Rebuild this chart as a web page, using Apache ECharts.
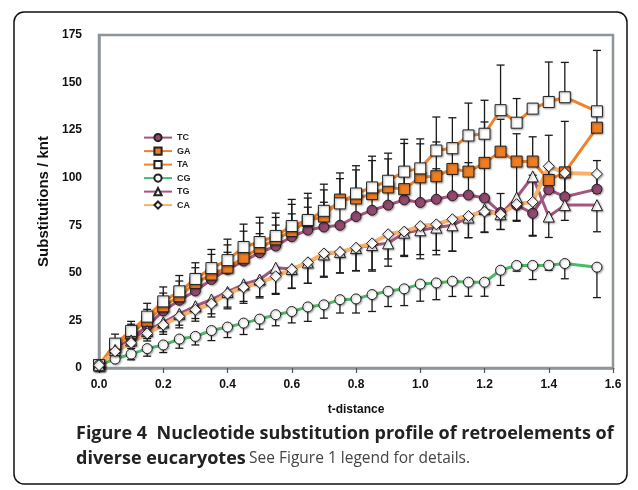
<!DOCTYPE html>
<html>
<head>
<meta charset="utf-8">
<script src="https://cdn.jsdelivr.net/npm/echarts@6/dist/echarts.min.js"></script>
<style>
  html, body { margin: 0; padding: 0; background: #fff; }
  #chart { width: 638px; height: 490px; }
</style>
</head>
<body>
<div id="chart"></div>
<script>
var tDist = [0, 0.05, 0.1, 0.15, 0.2, 0.25, 0.3, 0.35, 0.4, 0.45, 0.5, 0.55, 0.6, 0.65, 0.7, 0.75,
  0.8, 0.85, 0.9, 0.95, 1.0, 1.05, 1.1, 1.15, 1.2, 1.25, 1.3, 1.35, 1.4, 1.45, 1.55];

var TC = [1.5, 10, 15.5, 22, 30, 35.6, 40.5, 46.5, 51.8, 56.2, 60.6, 64.1, 69, 72.5, 74.1, 75,
  79.6, 82.9, 85.6, 88.4, 87, 88.7, 90.5, 90.9, 89.3, 81.7, 85.6, 81.3, 93.7, 90, 94];
var TCerr = [0.5, 3, 4, 5, 6, 6, 7, 8, 9, 10, 10, 11, 12, 12, 13, 13,
  14, 14, 15, 15, 15, 16, 16, 17, 17, 10, 22, 20, 8, 12, 15];

var GA = [1.5, 11, 18.3, 24.8, 32.4, 37.7, 44.7, 49.1, 52.7, 57.9, 63.2, 67.6, 72, 77.3, 79.6, 88.5,
  89.1, 91.4, 94.9, 94, 100.2, 100.8, 104.6, 103.2, 107.8, 113.7, 108.5, 108.5, 98.8, 102.8, 126.3];
var GAerr = [0.5, 4, 4.7, 6, 7, 8, 8, 10.6, 12, 14, 13, 11.5, 14, 12, 14, 11,
  15, 17.6, 15, 24, 17.6, 18, 13.7, 21.6, 21.5, 17, 14.6, 13, 23.5, 26.8, 6];

var TA = [1.5, 12.8, 19.5, 27, 35, 40.3, 46.8, 52.5, 56.7, 63.6, 66.2, 69.4, 74.6, 77.8, 82.6, 86.5,
  91.7, 94.9, 98.4, 103.2, 104.9, 114.3, 115.5, 122.2, 123.1, 135.5, 128.9, 136.3, 139.8, 142.3, 134.9];
var TAerr = [0.5, 5, 5, 7, 7.6, 8.3, 8.5, 9.8, 11, 12, 13, 12, 14, 14, 14, 16,
  14.6, 16.4, 14.5, 17, 15.5, 17.6, 16, 17, 17.6, 23.7, 12.7, 1, 21, 18.3, 32];

var CG = [1.5, 4.7, 7.3, 10.2, 12.1, 15.2, 16.6, 19.7, 21.5, 23.6, 25.7, 28, 29.7, 32.1, 33.2, 35.9,
  36.3, 38.6, 40.3, 41.6, 44.1, 44.7, 45.6, 45.1, 45.1, 51.4, 53.9, 53.9, 54, 54.9, 53];
var CGerr = [0.5, 1, 3, 4, 4, 4.8, 4.5, 5.3, 5.5, 6, 5.3, 5.8, 6, 7.6, 7, 7,
  7.4, 8.9, 8, 8.8, 9, 8.8, 8, 7.4, 7.4, 8, 3, 7.4, 2.6, 8, 16];

var TG = [1.5, 9.5, 14.5, 19.5, 24, 28.5, 32.5, 36, 40, 44, 46.5, 52.7, 52, 55.5, 59.7, 61,
  63, 64.6, 65.5, 71.1, 72.4, 73.8, 75, 79.1, 83.5, 80.8, 89.6, 100.7, 79.6, 85.6, 85.6];
var TGerr = [0.5, 2, 3, 4, 5, 6, 6.5, 7.5, 8, 9, 9, 14, 10, 11, 12, 11,
  12, 13, 12, 12.5, 15, 12, 13.6, 10.6, 12, 8, 12, 31, 11, 8, 14];

var CA = [1.5, 8.8, 13.2, 18.2, 22.7, 27.1, 30.6, 33.8, 39.1, 42.4, 44.8, 48.2, 51.8, 55.5, 60.2, 60.9,
  63.2, 65.5, 70.3, 71.7, 74.6, 75.5, 78.2, 79.9, 82.2, 80.8, 86.1, 87.3, 106, 102.5, 102];
var CAerr = [0.5, 2, 3, 4, 5, 6, 6, 7, 8, 8.4, 8, 9, 10, 11, 12, 11,
  12, 14.6, 13, 12.5, 15, 16, 16.8, 11.4, 11, 8, 9, 18, 10, 12, 10];

var yTicks = [0, 25, 50, 75, 100, 125, 150, 175];

var FONT = "'Liberation Sans', Arial, sans-serif";
var AXIS_GRAY = "#8d959b";

var shadow = {
  shadowBlur: 2,
  shadowColor: "rgba(0,0,0,0.35)",
  shadowOffsetX: 1,
  shadowOffsetY: 1,
};

// one line series per substitution type
var lineSeries = (name, vals, lineColor, lineWidth, symbol, size, fill) => ({
  type: "line",
  name: name,
  z: 3,
  data: tDist.map((t, i) => [t, vals[i]]),
  symbol: symbol,
  symbolSize: size,
  showAllSymbol: true,
  lineStyle: { color: lineColor, width: lineWidth },
  itemStyle: Object.assign(
    { color: fill, borderColor: "#222", borderWidth: 1 },
    shadow
  ),
  emphasis: { disabled: true },
});

// one-sided error bars (dir = 1 up, -1 down)
var errSeries = (name, vals, errs, dir) => ({
  type: "custom",
  name: name + "-err",
  z: 2,
  silent: true,
  data: tDist.map((t, i) => [t, vals[i], vals[i] + dir * errs[i]]),
  encode: { x: 0, y: [1, 2] },
  renderItem: function (params, api) {
    var p0 = api.coord([api.value(0), api.value(1)]);
    var p1 = api.coord([api.value(0), api.value(2)]);
    var w = 4;
    var st = { stroke: "#1a1a1a", lineWidth: 1.3 };
    return {
      type: "group",
      children: [
        { type: "line", shape: { x1: p0[0], y1: p0[1], x2: p1[0], y2: p1[1] }, style: st },
        { type: "line", shape: { x1: p1[0] - w, y1: p1[1], x2: p1[0] + w, y2: p1[1] }, style: st },
      ],
    };
  },
});

var chart = echarts.init(document.getElementById("chart"));

chart.setOption({
  backgroundColor: "#fff",
  animation: false,
  textStyle: { fontFamily: FONT },
  grid: {
    left: 99,
    right: 25,
    top: 35,
    bottom: 122,
    show: true,
    borderColor: AXIS_GRAY,
    borderWidth: 2.5,
  },
  legend: {
    data: ["TC", "GA", "TA", "CG", "TG", "CA"],
    orient: "vertical",
    left: 138,
    top: 128,
    itemWidth: 28,
    itemHeight: 9,
    itemGap: 4.3,
    textStyle: { fontSize: 9, fontWeight: "bold", color: "#222", fontFamily: FONT },
  },
  xAxis: {
    type: "value",
    min: 0,
    max: 1.6,
    interval: 0.2,
    name: "t-distance",
    nameLocation: "middle",
    nameGap: 36,
    nameTextStyle: { fontSize: 12, fontWeight: "bold", color: "#111", fontFamily: FONT },
    axisLine: { lineStyle: { color: AXIS_GRAY, width: 2.5 } },
    axisTick: { show: true, length: 5, lineStyle: { color: "#555", width: 1.2 } },
    axisLabel: {
      margin: 11,
      fontSize: 12,
      fontWeight: "bold",
      color: "#111",
      formatter: (v) => v.toFixed(1),
    },
    splitLine: { show: false },
  },
  yAxis: {
    type: "value",
    min: 0,
    max: 175,
    interval: 25,
    name: "Substitutions / knt",
    nameLocation: "middle",
    nameGap: 48,
    nameTextStyle: { fontSize: 15, fontWeight: "bold", color: "#111", fontFamily: FONT },
    axisLine: { show: true, lineStyle: { color: AXIS_GRAY, width: 2.5 } },
    axisTick: { show: false },
    axisLabel: {
      margin: 17,
      fontSize: 12,
      fontWeight: "bold",
      color: "#111",
      formatter: (v) => (yTicks.indexOf(v) >= 0 ? String(v) : ""),
    },
    splitLine: { show: false },
  },
  graphic: [
    {
      type: "rect",
      shape: { x: 14, y: 12, width: 613, height: 472, r: 10 },
      style: { fill: "none", stroke: "#111", lineWidth: 1.5 },
      silent: true,
    },
    {
      type: "text",
      left: 76,
      top: 425,
      style: {
        text: "Figure 4  Nucleotide substitution profile of retroelements of",
        font: "bold 18px 'Open Sans', sans-serif",
        fill: "#222",
      },
    },
    {
      type: "text",
      left: 76,
      top: 450,
      style: {
        text: "{b|diverse eucaryotes} {n|See Figure 1 legend for details.}",
        rich: {
          b: { font: "bold 18px 'Open Sans', sans-serif", fill: "#222" },
          n: { font: "15.5px 'Open Sans', sans-serif", fill: "#444" },
        },
      },
    },
  ],
  series: [
    errSeries("TC", TC, TCerr, 1),
    errSeries("GA", GA, GAerr, 1),
    errSeries("TA", TA, TAerr, 1),
    errSeries("CG", CG, CGerr, -1),
    errSeries("TG", TG, TGerr, -1),
    errSeries("CA", CA, CAerr, -1),
    lineSeries("TC", TC, "#a5567f", 3, "circle", 10, "#934870"),
    lineSeries("GA", GA, "#f0822c", 3, "rect", 11, "#ef7d22"),
    lineSeries("TA", TA, "#f0822c", 3, "rect", 11, "#ffffff"),
    lineSeries("CG", CG, "#4cba6a", 3, "circle", 10, "#ffffff"),
    lineSeries("TG", TG, "#a5567f", 3, "triangle", 11, "#ffffff"),
    lineSeries("CA", CA, "#f8b26c", 4, "diamond", 11, "#ffffff"),
  ],
});
</script>
</body>
</html>
